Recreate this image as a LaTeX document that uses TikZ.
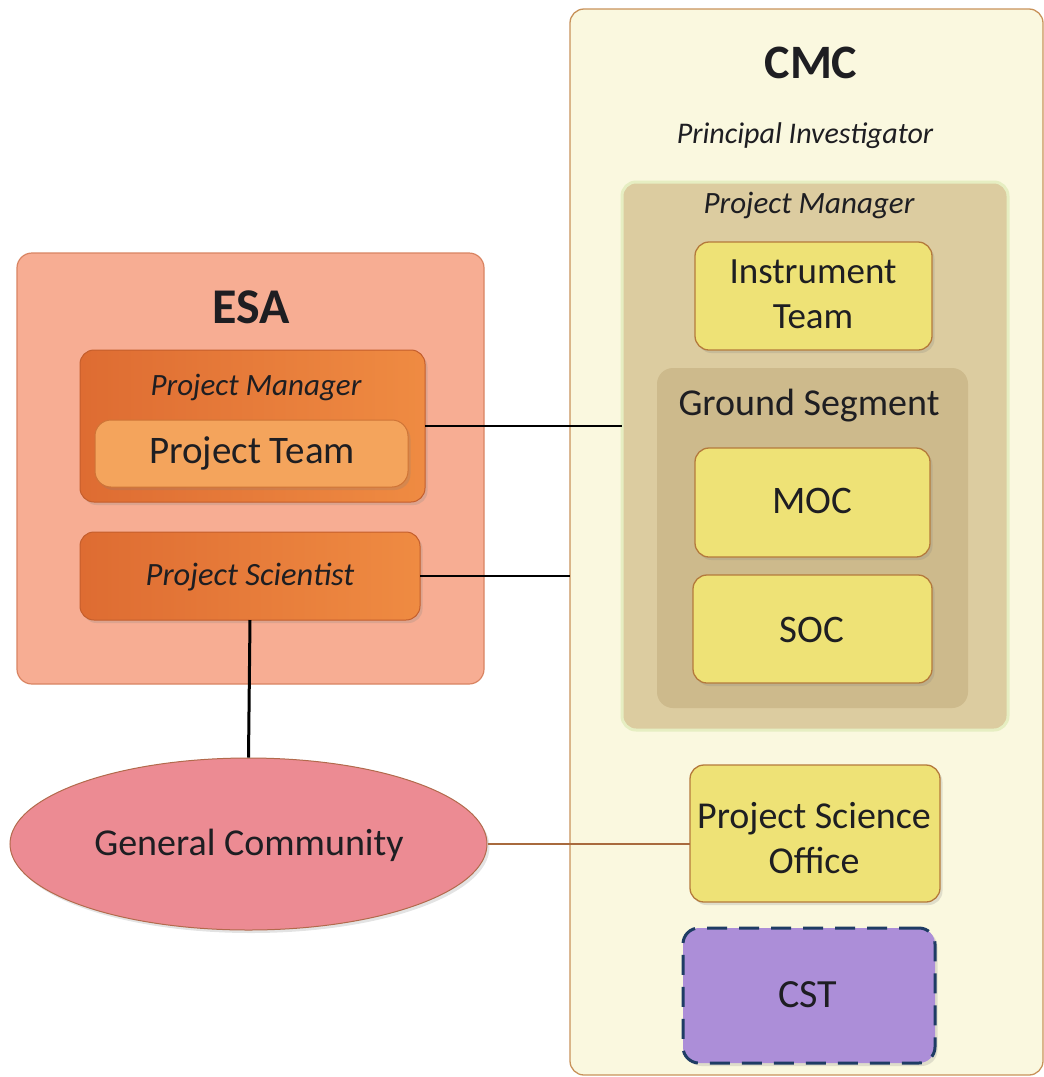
\documentclass[tikz,border=0pt]{standalone}
\usepackage{fontspec}
\setmainfont{Carlito}
\usetikzlibrary{shadows,shapes.geometric}
\definecolor{txt}{HTML}{1E1E22}
\definecolor{esafill}{HTML}{F7AD93}
\definecolor{esaline}{HTML}{D98462}
\definecolor{orgA}{HTML}{DE6C32}
\definecolor{orgB}{HTML}{EF8B42}
\definecolor{orgline}{HTML}{C45E2C}
\definecolor{teamfill}{HTML}{F4A45C}
\definecolor{teamline}{HTML}{CF7436}
\definecolor{gcfill}{HTML}{EC8B93}
\definecolor{gcline}{HTML}{B26A4C}
\definecolor{cmcfill}{HTML}{FAF8DF}
\definecolor{cmcline}{HTML}{C8925A}
\definecolor{pmfill}{HTML}{DCCCA0}
\definecolor{pmline}{HTML}{E6EEC2}
\definecolor{gsfill}{HTML}{CDBA8C}
\definecolor{yelfill}{HTML}{EEE276}
\definecolor{yelline}{HTML}{B47A3C}
\definecolor{cstfill}{HTML}{AC8ED8}
\definecolor{cstline}{HTML}{1E3C64}
\definecolor{linkbrown}{HTML}{A86A3E}
\tikzset{
  box/.style={rectangle, inner sep=0pt, outer sep=0pt},
  shd/.style={drop shadow={opacity=0.22, shadow xshift=2.5pt, shadow yshift=-3pt}},
  yelbox/.style={box, shd, fill=yelfill, draw=yelline, line width=1.3pt, rounded corners=14pt},
  lbl/.style={anchor=base, text=txt, inner sep=0pt},
  link/.style={draw=black, line width=1.8pt}
}
\begin{document}
\begin{tikzpicture}[x=1pt,y=-1pt]
\useasboundingbox (0,0) rectangle (1044,1077);
% ESA side
\node[box, fill=esafill, draw=esaline, line width=1.2pt, rounded corners=15pt, minimum width=467pt, minimum height=431pt] (esa) at (250.5,468.5) {};
\node[lbl, font=\fontsize{50}{56}\selectfont\bfseries] (esat) at (251,323) {ESA};
\node[box, shd, left color=orgA, right color=orgB, draw=orgline, line width=1pt, rounded corners=14pt, minimum width=345pt, minimum height=152pt] (esapm) at (252.5,426) {};
\node[lbl, font=\fontsize{31}{36}\selectfont\itshape] (esapmt) at (256,395) {Project Manager};
\node[box, shd, fill=teamfill, draw=teamline, line width=1pt, rounded corners=16pt, minimum width=313pt, minimum height=67pt] (pteam) at (251.5,453.5) {};
\node[lbl, font=\fontsize{39}{44}\selectfont] (pteamt) at (252,463) {Project Team};
\node[box, shd, left color=orgA, right color=orgB, draw=orgline, line width=1pt, rounded corners=14pt, minimum width=340pt, minimum height=88pt] (ps) at (250,576) {};
\node[lbl, font=\fontsize{32.5}{38}\selectfont\itshape] (pst) at (250,585) {Project Scientist};
\node[ellipse, shd, fill=gcfill, draw=gcline, line width=1pt, inner sep=0pt, minimum width=477pt, minimum height=172pt] (gc) at (248.5,844) {};
\node[lbl, font=\fontsize{38}{44}\selectfont] (gct) at (249,855) {General Community};
% CMC side
\node[box, fill=cmcfill, draw=cmcline, line width=1.3pt, rounded corners=14pt, minimum width=473pt, minimum height=1066pt] (cmc) at (806.5,542) {};
\node[lbl, font=\fontsize{48}{54}\selectfont\bfseries] (cmct) at (811,78) {CMC};
\node[lbl, font=\fontsize{30}{34}\selectfont\itshape] (pit) at (805,143) {Principal Investigator};
\node[box, fill=pmfill, draw=pmline, line width=3pt, rounded corners=14pt, minimum width=386pt, minimum height=548pt] (cmcpm) at (815,456) {};
\node[lbl, font=\fontsize{31}{36}\selectfont\itshape] (cmcpmt) at (809,213) {Project Manager};
\node[yelbox, minimum width=237pt, minimum height=108pt] (itm) at (813.5,296) {};
\node[lbl, font=\fontsize{37}{42}\selectfont] (itmt1) at (813,283) {Instrument};
\node[lbl, font=\fontsize{37}{42}\selectfont] (itmt2) at (813,328) {Team};
\node[box, fill=gsfill, rounded corners=16pt, minimum width=311pt, minimum height=340pt] (gs) at (812.5,538) {};
\node[lbl, font=\fontsize{38}{44}\selectfont] (gst) at (809,415) {Ground Segment};
\node[yelbox, minimum width=235pt, minimum height=109pt] (moc) at (812.5,502.5) {};
\node[lbl, font=\fontsize{39}{44}\selectfont] (moct) at (812,513) {MOC};
\node[yelbox, minimum width=239pt, minimum height=108pt] (soc) at (812.5,629) {};
\node[lbl, font=\fontsize{39}{44}\selectfont] (soct) at (812,642) {SOC};
\node[yelbox, minimum width=250pt, minimum height=137pt] (pso) at (815,833.5) {};
\node[lbl, font=\fontsize{38}{44}\selectfont] (psot1) at (814,828) {Project Science};
\node[lbl, font=\fontsize{38}{44}\selectfont] (psot2) at (814,873) {Office};
\node[box, shd, fill=cstfill, draw=cstline, line width=3pt, dash pattern=on 20pt off 12pt, rounded corners=16pt, minimum width=252pt, minimum height=135pt] (cst) at (809,995.5) {};
\node[lbl, font=\fontsize{40}{46}\selectfont] (cstt) at (808,1007) {CST};
% connectors
\draw[link] (esapm.east) -- (cmcpm.west |- esapm.east);
\draw[link] (ps.east) -- (ps.east -| cmc.west);
\draw[draw=black, line width=3pt] (ps.south) -- (gc.north);
\draw[draw=linkbrown, line width=1.4pt] (gc.east) -- (gc.east -| pso.west);
\end{tikzpicture}
\end{document}
